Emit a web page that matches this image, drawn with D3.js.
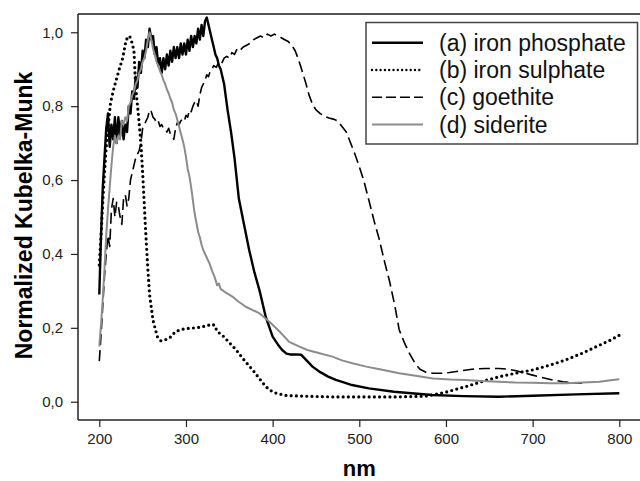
<!DOCTYPE html>
<html>
<head>
<meta charset="utf-8">
<script src="https://cdn.jsdelivr.net/npm/d3@7.9.0/dist/d3.min.js"></script>
<style>
  body { margin: 0; background: #fff; }
  svg { display: block; font-family: "Liberation Sans", Arial, sans-serif; }
</style>
</head>
<body>
<svg id="chart" width="640" height="481"></svg>
<script>
// (a) iron phosphate
const phosphateNm = [200,202,204,206,208,210,212,214,216,218,220,222,224,226,228,230,232,234,236,238,240,242,244,246,248,250,252,254,256,258,260,262,264,266,268,270,272,274,276,278,280,282,284,286,288,290,292,294,296,298,300,302,304,306,308,310,312,314,316,318,320,322,324,326,328,330,332,334,336,338,340,344,348,352,356,361,367,373,379,385,392,400,406,411,416,420,427,433,440,446,455,464,473,490,511,540,584,620,661,700,750,800];
const phosphateKM = [0.29,0.45,0.58,0.66,0.74,0.78,0.69,0.75,0.71,0.77,0.70,0.77,0.72,0.76,0.71,0.75,0.73,0.80,0.78,0.84,0.82,0.88,0.85,0.92,0.89,0.95,0.93,0.98,0.96,1.01,0.98,0.99,0.94,0.96,0.91,0.93,0.89,0.93,0.90,0.94,0.91,0.95,0.92,0.96,0.93,0.96,0.93,0.97,0.94,0.97,0.94,0.98,0.95,0.99,0.96,0.99,0.97,1.01,0.98,1.02,0.99,1.03,1.04,1.02,1.00,0.98,0.96,0.94,0.93,0.91,0.90,0.86,0.79,0.73,0.66,0.55,0.48,0.41,0.35,0.30,0.23,0.176,0.155,0.14,0.13,0.128,0.128,0.127,0.11,0.095,0.08,0.068,0.059,0.046,0.036,0.027,0.018,0.015,0.0135,0.016,0.02,0.023];

// (b) iron sulphate
const sulphateNm = [200,202,204,206,208,210,213,217,223,227,231,235,238,240,242,245,248,250,252,254,256,258,262,267,271,275,281,288,296,304,312,319,325,329,333,336,342,350,358,368,377,385,392,398,404,415,435,470,512,545,577,600,623,642,662,680,700,720,738,758,777,790,800];
const sulphateKM = [0.37,0.45,0.54,0.62,0.69,0.74,0.81,0.85,0.90,0.93,0.98,0.99,0.97,0.95,0.85,0.78,0.70,0.62,0.53,0.44,0.36,0.29,0.22,0.176,0.165,0.167,0.172,0.19,0.196,0.199,0.20,0.203,0.206,0.21,0.207,0.19,0.18,0.16,0.14,0.11,0.086,0.062,0.041,0.03,0.023,0.017,0.015,0.013,0.013,0.013,0.015,0.026,0.041,0.055,0.068,0.077,0.086,0.099,0.113,0.132,0.153,0.167,0.18];

// (c) goethite
const goethiteNm = [200,202,204,206,208,210,212,214,216,218,220,222,224,226,228,230,232,234,236,238,240,242,244,246,248,250,252,254,256,258,260,262,264,266,268,270,272,274,276,278,280,282,284,286,288,290,292,294,296,298,300,302,304,306,308,310,312,314,316,318,320,322,324,326,328,330,332,335,338,341,344,347,350,353,356,359,362,366,370,374,378,382,386,390,394,398,402,406,410,414,418,422,426,430,434,438,442,446,450,455,460,465,470,475,480,485,490,495,500,505,511,517,523,529,535,541,546,552,558,564,570,577,585,595,604,615,630,645,661,672,681,690,700,712,723,735,746,757];
const goethiteKM = [0.11,0.18,0.26,0.34,0.40,0.45,0.42,0.52,0.55,0.50,0.54,0.53,0.50,0.48,0.55,0.56,0.53,0.55,0.60,0.62,0.64,0.66,0.67,0.68,0.70,0.74,0.75,0.76,0.77,0.79,0.785,0.77,0.765,0.755,0.76,0.745,0.75,0.74,0.735,0.73,0.74,0.725,0.72,0.71,0.74,0.755,0.75,0.76,0.765,0.76,0.775,0.77,0.79,0.785,0.80,0.81,0.815,0.80,0.83,0.85,0.86,0.87,0.885,0.88,0.895,0.90,0.91,0.905,0.92,0.915,0.93,0.935,0.93,0.945,0.94,0.955,0.95,0.96,0.965,0.97,0.98,0.985,0.99,0.985,0.995,0.99,0.995,0.99,0.985,0.98,0.975,0.965,0.95,0.925,0.895,0.865,0.83,0.805,0.79,0.78,0.772,0.768,0.765,0.76,0.745,0.73,0.70,0.67,0.636,0.60,0.546,0.49,0.44,0.38,0.325,0.26,0.195,0.16,0.13,0.105,0.088,0.08,0.077,0.077,0.079,0.083,0.088,0.09,0.09,0.088,0.084,0.078,0.072,0.065,0.059,0.054,0.051,0.05];

// (d) siderite
const sideriteNm = [200,202,204,206,208,210,212,214,216,218,220,222,224,226,228,230,232,234,236,238,240,242,244,246,248,250,252,254,256,258,260,262,264,266,268,270,272,274,276,278,280,282,284,286,288,290,292,294,296,298,300,302,304,306,308,310,312,314,316,318,320,323,327,330,333,336,338,340,342,346,350,354,360,369,377,385,396,408,419,431,440,454,469,480,492,508,525,546,565,585,605,623,640,661,680,700,720,738,758,777,790,800];
const sideriteKM = [0.15,0.21,0.28,0.36,0.45,0.52,0.58,0.64,0.69,0.72,0.70,0.72,0.71,0.76,0.75,0.77,0.76,0.80,0.81,0.83,0.84,0.86,0.87,0.89,0.90,0.92,0.93,0.95,0.98,1.0,0.98,0.955,0.94,0.92,0.91,0.895,0.885,0.87,0.86,0.845,0.835,0.82,0.81,0.79,0.78,0.763,0.745,0.727,0.71,0.69,0.663,0.63,0.61,0.58,0.545,0.51,0.485,0.46,0.445,0.425,0.41,0.395,0.375,0.355,0.338,0.315,0.32,0.305,0.302,0.295,0.29,0.284,0.272,0.257,0.248,0.239,0.217,0.19,0.162,0.149,0.14,0.131,0.122,0.112,0.104,0.095,0.087,0.077,0.07,0.063,0.06,0.059,0.056,0.054,0.052,0.051,0.05,0.05,0.052,0.054,0.058,0.061];

const seriesLabels = ["(a) iron phosphate", "(b) iron sulphate", "(c) goethite", "(d) siderite"];
const xTicks = [200, 300, 400, 500, 600, 700, 800];
const yTicks = [0, 0.2, 0.4, 0.6, 0.8, 1.0];

const svg = d3.select("#chart");

const x = d3.scaleLinear().domain([176, 824]).range([78.5, 640.1]);
const y = d3.scaleLinear().domain([-0.0495, 1.0495]).range([420, 14]);

const styles = [
    { color: "#000", width: 2.4, dash: null, cap: "butt" },
    { color: "#000", width: 3.2, dash: "0,5.2", cap: "round" },
    { color: "#000", width: 1.6, dash: "11,5", cap: "butt" },
    { color: "#8c8c8c", width: 2, dash: null, cap: "butt" }
];

const series = [
    d3.zip(phosphateNm, phosphateKM),
    d3.zip(sulphateNm, sulphateKM),
    d3.zip(goethiteNm, goethiteKM),
    d3.zip(sideriteNm, sideriteKM)
];

const line = d3.line().x(d => x(d[0])).y(d => y(d[1]));

// curves
series.forEach((s, i) => {
    svg.append("path")
        .datum(s)
        .attr("d", line)
        .attr("fill", "none")
        .attr("stroke", styles[i].color)
        .attr("stroke-width", styles[i].width)
        .attr("stroke-dasharray", styles[i].dash)
        .attr("stroke-linecap", styles[i].cap)
        .attr("stroke-linejoin", "round");
});

// frame (right side cut off like the original)
svg.append("line").attr("x1", 78).attr("x2", 640).attr("y1", 14).attr("y2", 14)
    .attr("stroke", "#555").attr("stroke-width", 2);

// axes
const xAxis = d3.axisBottom(x).tickValues(xTicks).tickSize(7).tickPadding(6);
const yAxis = d3.axisLeft(y).tickValues(yTicks).tickSize(7).tickPadding(8)
    .tickFormat(d => d3.format(".1f")(d).replace(".", ","));

const gx = svg.append("g").attr("transform", "translate(0,420)").call(xAxis);
const gy = svg.append("g").attr("transform", "translate(78,0)").call(yAxis);

gx.select(".domain").attr("d", "M78,0H640").attr("stroke", "#222").attr("stroke-width", 1.5);
gy.select(".domain").attr("d", "M0,14V420").attr("stroke", "#222").attr("stroke-width", 1.5);
[gx, gy].forEach(g => {
    g.selectAll(".tick line").attr("stroke", "#222").attr("stroke-width", 1.2);
    g.selectAll(".tick text").attr("fill", "#222")
        .style("font-size", "15px").style("font-family", "Liberation Sans, Arial, sans-serif");
});

// axis titles
svg.append("text")
    .attr("x", x(500)).attr("y", 476)
    .attr("text-anchor", "middle")
    .style("font-size", "22px").style("font-weight", "bold")
    .text("nm");

svg.append("text")
    .attr("transform", "translate(32,215.5) rotate(-90)")
    .attr("text-anchor", "middle")
    .style("font-size", "23px").style("font-weight", "bold")
    .text("Normalized Kubelka-Munk");

// legend
const legend = svg.append("g");
legend.append("rect")
    .attr("x", 366).attr("y", 22.5).attr("width", 271.5).attr("height", 121.5)
    .attr("fill", "#fff").attr("stroke", "#444").attr("stroke-width", 1.5);

seriesLabels.forEach((label, i) => {
    const cy = 42.7 + i * 27.3;
    legend.append("line")
        .attr("x1", 372).attr("x2", 423).attr("y1", cy).attr("y2", cy)
        .attr("stroke", styles[i].color)
        .attr("stroke-width", i === 1 ? 2.4 : styles[i].width)
        .attr("stroke-dasharray", i === 1 ? "0,4.3" : (i === 2 ? "10,4" : null))
        .attr("stroke-linecap", styles[i].cap);
    legend.append("text")
        .attr("x", 439).attr("y", cy).attr("dy", "0.35em")
        .style("font-size", "23px")
        .attr("fill", "#111")
        .text(label);
});
</script>
</body>
</html>
